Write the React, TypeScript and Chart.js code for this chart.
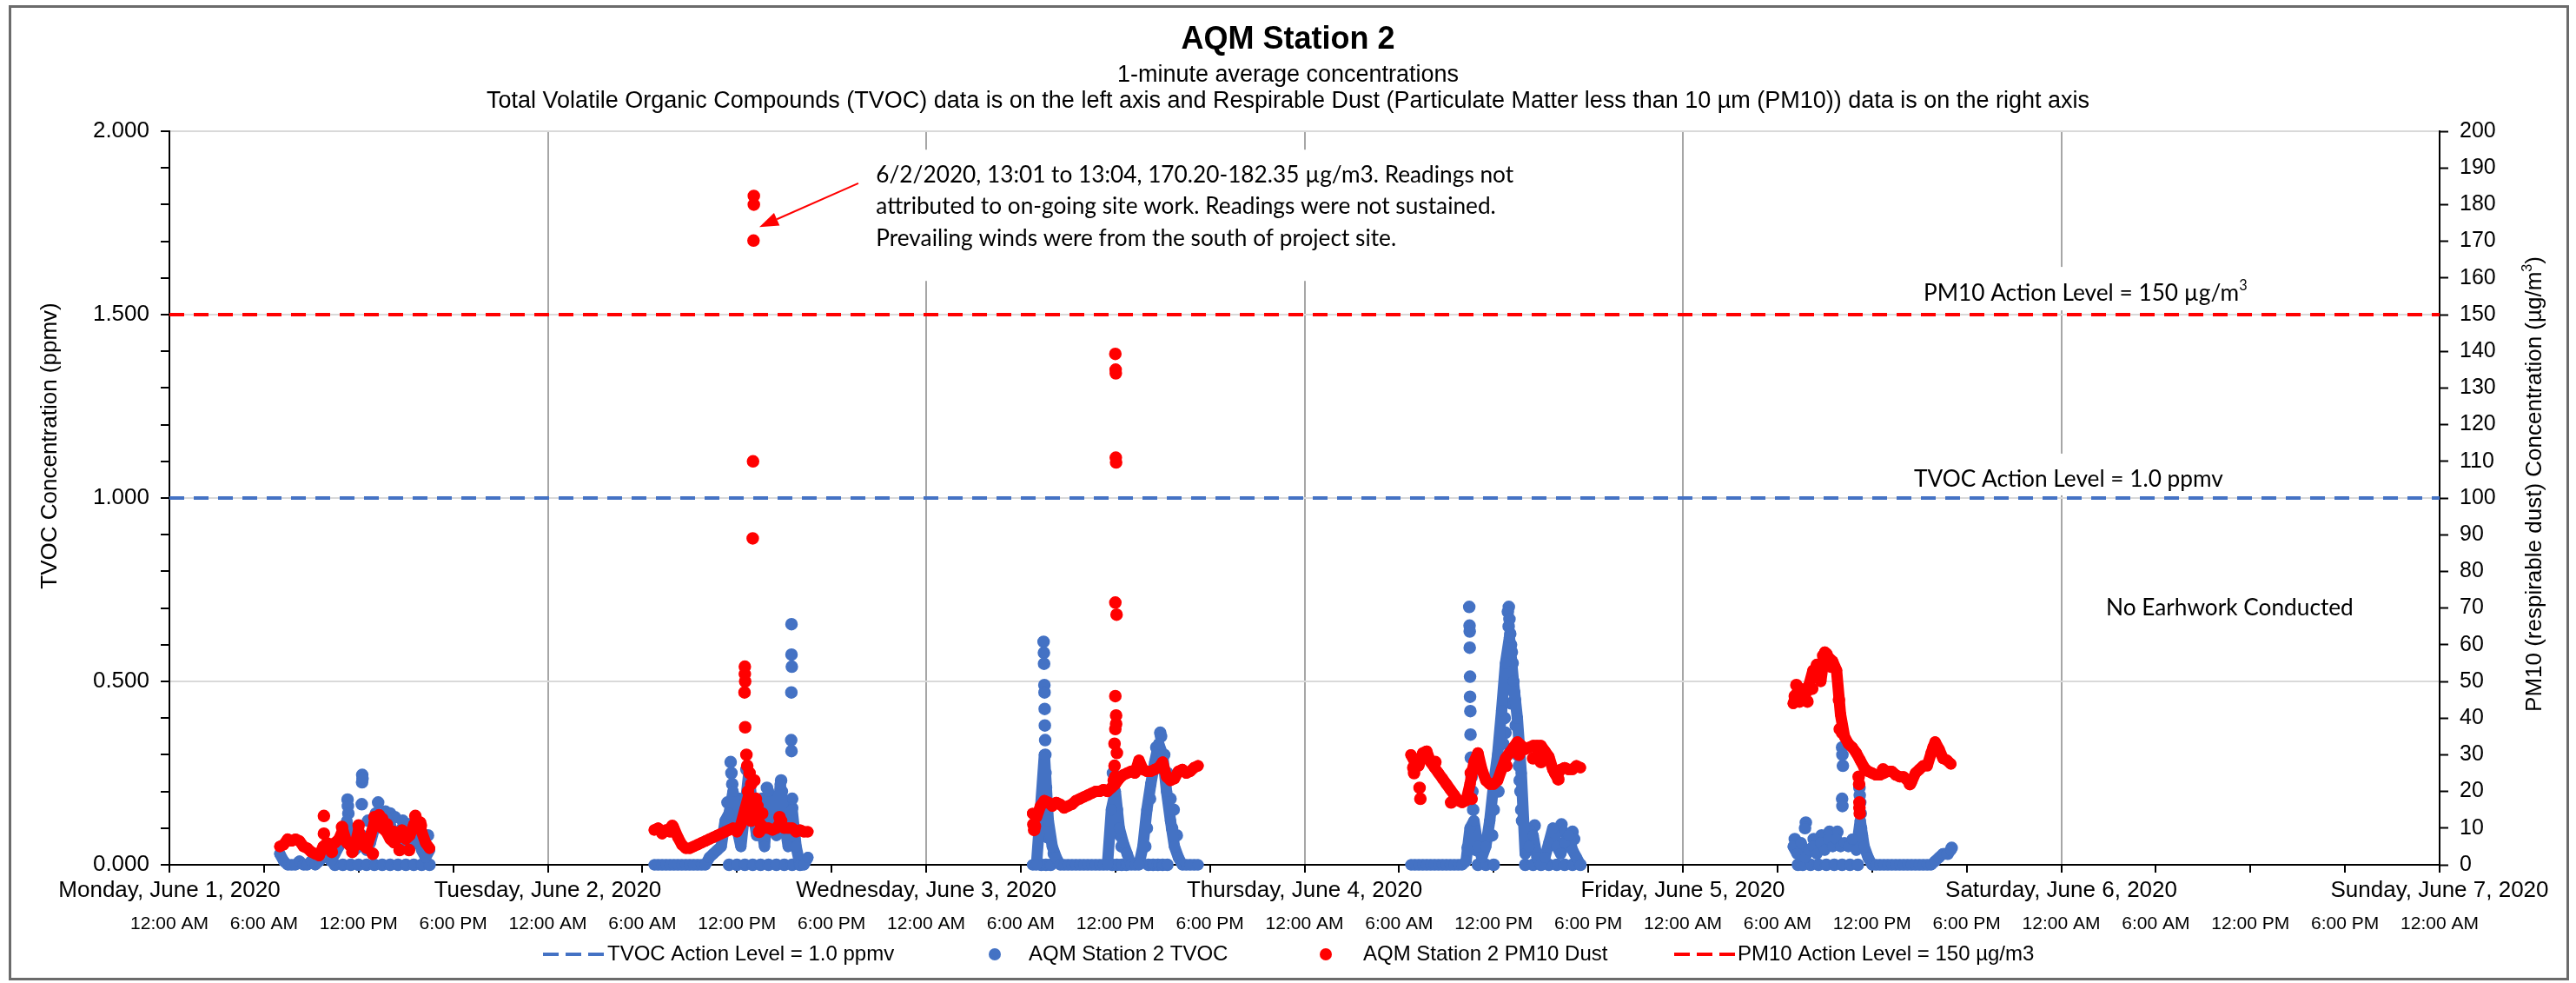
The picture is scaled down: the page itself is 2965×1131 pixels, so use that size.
import React, { useEffect, useRef } from 'react';
import { Chart, registerables } from 'chart.js';

Chart.register(...registerables);

const WIDTH = 2965;
const HEIGHT = 1131;
const STEP_HOURS = 0.25; // 15-minute sampling of the readable trace

// ---------- text / tick labels ----------
const chartTitle = 'AQM Station 2';
const subtitle1 = '1-minute average concentrations';
const subtitle2 =
  'Total Volatile Organic Compounds (TVOC) data is on the left axis and Respirable Dust (Particulate Matter less than 10 \u00b5m (PM10)) data is on the right axis';
const leftAxisTitle = 'TVOC Concentration (ppmv)';
const dayLabels = [
  'Monday, June 1, 2020',
  'Tuesday, June 2, 2020',
  'Wednesday, June 3, 2020',
  'Thursday, June 4, 2020',
  'Friday, June 5, 2020',
  'Saturday, June 6, 2020',
  'Sunday, June 7, 2020',
];
const timeOfDayLabels = ['12:00 AM', '6:00 AM', '12:00 PM', '6:00 PM'];
const legendLabels = [
  'TVOC Action Level = 1.0 ppmv',
  'AQM Station 2 TVOC',
  'AQM Station 2 PM10 Dust',
  'PM10 Action Level = 150 \u00b5g/m3',
];
const annotationLines = [
  '6/2/2020, 13:01 to 13:04, 170.20-182.35 \u00b5g/m3. Readings not',
  'attributed to on-going site work. Readings were not sustained.',
  'Prevailing winds were from the south of project site.',
];
const noWorkLabel = 'No Earhwork Conducted';
const tvocLevelLabel = 'TVOC Action Level = 1.0 ppmv';

// ---------- action levels ----------
const tvocActionLevel = 1.0; // ppmv
const pm10ActionLevel = 150; // ug/m3

// ---------- data (hours since Mon June 1 2020 00:00) ----------
// Monday
const pmMonStart = 7.0;
const pmMonValues = [5, 5.5, 7, 6.5, 7, 6.5, 5, 4.5, 3.5, 3, 2.5, 5, 6, 5.5, 6, 7, 9.5, 6, 5, 5, 9.5, 5.5, 4.5, 8, 11.5, 12, 10, 9, 7, 6, 7.5, 9.5, 7, 8, 11, 12, 9, 6, 4.5];
const pmMonExtra = [[9.8, 13.3], [9.8, 8.5], [10.95, 10.3], [10.95, 8], [12.0, 10.7], [12.05, 8], [13.0, 13], [13.3, 13.5], [13.5, 12.5], [13.4, 11], [13.8, 11], [14.2, 9], [15.6, 13.3], [15.95, 10.7], [15.9, 11.5], [12.9, 3], [11.6, 3.5], [10.3, 3.5], [14.6, 4], [15.2, 4]];
const tvocMonStart = 7.0;
const tvocMonValues = [0.03, 0.01, 0, 0, 0, 0.01, 0, 0, 0.01, 0, 0.01, 0.02, 0.03, 0.01, 0.03, 0.05, 0.08, 0.12, 0.06, 0.04, 0.05, 0.08, 0.04, 0.06, 0.1, 0.12, 0.1, 0.13, 0.11, 0.08, 0.06, 0.1, 0.07, 0.05, 0.06, 0.08, 0.04, 0.02, 0.04];
const tvocMonExtra = [[11.3, 0.178], [11.32, 0.16], [11.35, 0.14], [12.23, 0.245], [12.22, 0.225], [12.25, 0.235], [12.2, 0.165], [13.24, 0.17], [13.7, 0.145], [14.0, 0.14], [14.3, 0.13], [14.8, 0.12], [15.2, 0.11], [16.4, 0.08], [10.5, 0], [11, 0], [11.5, 0], [12, 0], [12.5, 0], [13, 0], [13.5, 0], [14, 0], [14.5, 0], [15, 0], [15.5, 0], [16, 0], [16.5, 0], [11.0, 0.1], [12.6, 0.12], [13.1, 0.14]];

// Tuesday
const pmTueStart = 30.75;
const pmTueValues = [9.5, 10, 8.5, 9.5, 9, 10, 7.5, 5.5, 4.5, 4.5, 5, 5.5, 6, 6.5, 7, 7.5, 8, 8.5, 9, 9.5, 10, 9, 11, 15, 19, 14, 13, 11, 10, 10, 9.5, 10, 11.5, 10, 10, 10, 9, 9.5, 9, 9];
const pmTueExtra = [[37.07, 182.35], [37.07, 180], [37.05, 170.2], [37.02, 110], [37.0, 89], [36.5, 54], [36.5, 52], [36.52, 50], [36.48, 47], [36.52, 37.5], [36.6, 30], [36.65, 27], [36.8, 25], [36.9, 22], [37.1, 23], [37.2, 18], [37.3, 16], [36.7, 20], [36.6, 15], [37.6, 14], [38.7, 13], [38.8, 12], [31.9, 10.6], [36.9, 12], [37.4, 9]];
const tvocTueStart = 30.75;
const tvocTueValues = [0, 0, 0, 0, 0, 0, 0, 0, 0, 0, 0, 0, 0, 0, 0.02, 0.03, 0.04, 0.05, 0.12, 0.14, 0.2, 0.1, 0.05, 0.15, 0.25, 0.15, 0.08, 0.12, 0.05, 0.2, 0.12, 0.08, 0.22, 0.12, 0.05, 0.15, 0.05, 0, 0, 0.02];
const tvocTueExtra = [[35.6, 0.28], [35.65, 0.25], [35.7, 0.22], [35.4, 0.17], [36.6, 0.26], [36.8, 0.23], [37.9, 0.21], [38.0, 0.15], [38.8, 0.23], [38.85, 0.2], [39.46, 0.656], [39.46, 0.573], [39.48, 0.54], [39.45, 0.47], [39.44, 0.34], [39.46, 0.31], [39.5, 0.18], [39.5, 0.155], [39.55, 0.1], [35.5, 0], [36, 0], [36.5, 0], [37, 0], [37.5, 0], [38, 0], [38.5, 0], [39, 0], [39.5, 0], [40, 0], [36.1, 0.18], [37.6, 0.18], [38.3, 0.18]];

// Wednesday
const pmWedStart = 54.75;
const pmWedValues = [14, 13, 16, 17.5, 17, 16, 17, 16.5, 15.5, 16, 16.5, 17.5, 18, 18.5, 19, 19.5, 20, 20, 20.5, 20, 21, 22, 23.5, 24.5, 25, 25.5, 25, 28.5, 26, 25.5, 25.5, 26, 26.5, 28, 24, 23, 23.5, 25.5, 26, 25, 25.5, 26.5, 27];
const pmWedExtra = [[54.8, 11], [54.85, 9.5], [54.9, 10.5], [60.0, 139.3], [60.02, 135], [60.03, 134], [60.03, 111], [60.05, 109.7], [60.0, 71.5], [60.08, 68.2], [60.0, 46], [60.05, 40.7], [60.05, 38.4], [60.0, 37], [59.95, 33], [60.1, 30.5], [59.95, 27], [60.0, 24], [59.9, 23]];
const tvocWedStart = 54.75;
const tvocWedValues = [0, 0, 0.15, 0.3, 0.12, 0.05, 0.02, 0, 0, 0, 0, 0, 0, 0, 0, 0, 0, 0, 0, 0, 0.15, 0.2, 0.1, 0.06, 0.03, 0, 0, 0, 0.05, 0.15, 0.22, 0.28, 0.33, 0.3, 0.2, 0.12, 0.05, 0.02, 0, 0, 0, 0, 0];
const tvocWedExtra = [[55.45, 0.608], [55.47, 0.578], [55.48, 0.548], [55.5, 0.49], [55.51, 0.47], [55.52, 0.425], [55.53, 0.38], [55.55, 0.34], [55.56, 0.3], [55.57, 0.25], [55.6, 0.21], [55.62, 0.15], [55.65, 0.1], [55.7, 0.075], [56.1, 0.03], [59.85, 0.25], [59.9, 0.2], [60.0, 0.12], [60.1, 0.15], [60.3, 0.08], [60.4, 0.05], [60.2, 0.1], [62.85, 0.36], [62.9, 0.35], [62.6, 0.32], [63.1, 0.3], [63.3, 0.25], [63.5, 0.18], [63.6, 0.1], [62.0, 0.1], [62.2, 0.18], [61.9, 0.05], [63.7, 0.15], [63.9, 0.08], [55.3, 0], [55.6, 0], [55.9, 0], [59.8, 0], [60.1, 0], [60.4, 0], [60.7, 0], [62.1, 0], [62.4, 0], [62.7, 0], [63.0, 0], [63.3, 0]];

// Thursday
const pmThuStart = 78.75;
const pmThuValues = [30, 28, 27, 30.5, 31, 28, 26.5, 25, 23.5, 22, 20.5, 19, 17.5, 17, 17.5, 22, 28, 30.5, 26, 23, 22, 22, 23, 26, 29, 30.5, 32, 33.5, 32.5, 31.5, 32, 32.5, 32.5, 32.5, 31, 29.5, 26, 24, 26, 26.5, 26, 26, 27, 26.5];
const pmThuExtra = [[78.9, 26.5], [78.95, 25], [79.3, 21], [79.35, 18], [79.5, 29], [82.55, 25], [82.7, 26], [82.6, 18], [83.0, 27], [84.8, 27], [85.6, 30], [86.5, 29], [86.8, 30], [87.0, 28], [88.1, 23.3], [87.9, 25], [80.3, 28], [81.3, 17]];
const tvocThuStart = 78.75;
const tvocThuValues = [0, 0, 0, 0, 0, 0, 0, 0, 0, 0, 0, 0, 0, 0, 0.01, 0.1, 0.12, 0.05, 0.02, 0.05, 0.12, 0.22, 0.3, 0.42, 0.55, 0.62, 0.5, 0.4, 0.25, 0.03, 0.05, 0.08, 0.02, 0, 0.02, 0.06, 0.1, 0.05, 0.03, 0.06, 0.08, 0.04, 0.02, 0];
const tvocThuExtra = [[82.45, 0.703], [82.47, 0.652], [82.48, 0.636], [82.48, 0.592], [82.5, 0.513], [82.5, 0.458], [82.52, 0.419], [82.53, 0.355], [82.55, 0.292], [82.6, 0.24], [82.65, 0.2], [82.7, 0.15], [82.8, 0.08], [82.35, 0.047], [82.9, 0.04], [84.96, 0.703], [84.9, 0.69], [85.0, 0.67], [84.95, 0.65], [85.05, 0.63], [85.1, 0.6], [85.15, 0.58], [85.2, 0.55], [85.0, 0.52], [85.25, 0.5], [85.3, 0.47], [85.35, 0.45], [85.1, 0.44], [84.7, 0.4], [84.75, 0.36], [84.6, 0.33], [85.4, 0.38], [85.5, 0.3], [85.6, 0.27], [85.65, 0.23], [85.7, 0.2], [85.75, 0.15], [85.8, 0.12], [84.3, 0.2], [84.0, 0.15], [83.9, 0.08], [86.6, 0.107], [86.4, 0.09], [88.3, 0.11], [88.4, 0.09], [89.0, 0.09], [89.1, 0.07], [83, 0], [83.5, 0], [84, 0], [86, 0], [86.5, 0], [87, 0], [87.5, 0], [88, 0], [88.5, 0], [89, 0], [89.5, 0]];

// Friday
const pmFriStart = 103.0;
const pmFriValues = [44, 47, 48, 46, 49, 53, 52, 50, 58, 56.5, 55.5, 53, 41, 35, 33, 32, 30.5, 28.5, 26.5, 25.5, 25, 24.5, 24.5, 25, 25.5, 25.5, 24.5, 24, 24, 23, 22.5, 25, 26, 27, 27, 30.5, 33.5, 31.5, 29, 28.5, 27.5];
const pmFriExtra = [[103.1, 46], [103.2, 49], [103.4, 44.5], [103.6, 45], [103.9, 44.5], [104.2, 48], [104.5, 54.5], [104.9, 57], [105.1, 57.5], [105.4, 54], [105.9, 45], [105.95, 37], [106.1, 36], [107.15, 24], [107.18, 22], [107.2, 17], [107.2, 15.5], [107.22, 14], [108.7, 26], [110.4, 22], [111.9, 32]];
const tvocFriStart = 103.0;
const tvocFriValues = [0.05, 0.03, 0.06, 0.02, 0.04, 0.05, 0.03, 0.06, 0.04, 0.07, 0.05, 0.07, 0.05, 0.06, 0.05, 0.07, 0.04, 0.12, 0.05, 0.02, 0, 0, 0, 0, 0, 0, 0, 0, 0, 0, 0, 0, 0, 0, 0, 0, 0.01, 0.02, 0.03, 0.03, 0.04];
const tvocFriExtra = [[103.8, 0.115], [103.75, 0.1], [103.1, 0.07], [103.3, 0], [103.6, 0], [104.1, 0], [104.6, 0], [105.1, 0], [105.6, 0], [106.1, 0], [106.6, 0], [107.1, 0], [106.1, 0.32], [106.12, 0.3], [106.15, 0.27], [106.1, 0.18], [106.12, 0.16], [107.2, 0.21], [107.22, 0.19], [107.25, 0.17], [107.28, 0.14], [107.3, 0.1], [107.35, 0.08], [107.4, 0.05], [104.8, 0.08], [105.3, 0.09], [105.8, 0.09], [104.3, 0.07], [113.05, 0.046], [112.8, 0.03]];

// ---------- helpers ----------
const SANS = '"Liberation Sans", Arial, Helvetica, sans-serif';
const CAL = 'Lato, "Open Sans", sans-serif';
const BLUE = '#4472C4';
const RED = '#FF0000';
const MARKER_R = 6.5;

function sampled(start: number, values: number[]) {
  return values.map((y, i) => ({ x: start + i * STEP_HOURS, y }));
}
function pairs(list: number[][]) {
  return list.map(([x, y]) => ({ x, y }));
}
// dense 1-minute readings appear as a continuous trail of markers; join each day's
// readings and break between days
function dailyTrail(days: [number, number[]][]) {
  const out: { x: number; y: number | null }[] = [];
  days.forEach(([start, values], k) => {
    if (k > 0) out.push({ x: start - 1, y: null });
    out.push(...sampled(start, values));
  });
  return out;
}
function isHalf(v: number) {
  return Math.abs(v * 2 - Math.round(v * 2)) < 1e-6;
}

const pmTrail = dailyTrail([
  [pmMonStart, pmMonValues], [pmTueStart, pmTueValues], [pmWedStart, pmWedValues],
  [pmThuStart, pmThuValues], [pmFriStart, pmFriValues],
]);
const pmScatter = [...pairs(pmMonExtra), ...pairs(pmTueExtra), ...pairs(pmWedExtra), ...pairs(pmThuExtra), ...pairs(pmFriExtra)];
const tvocTrail = dailyTrail([
  [tvocMonStart, tvocMonValues], [tvocTueStart, tvocTueValues], [tvocWedStart, tvocWedValues],
  [tvocThuStart, tvocThuValues], [tvocFriStart, tvocFriValues],
]);
const tvocScatter = [...pairs(tvocMonExtra), ...pairs(tvocTueExtra), ...pairs(tvocWedExtra), ...pairs(tvocThuExtra), ...pairs(tvocFriExtra)];

function drawParts(ctx: CanvasRenderingContext2D, parts: [string, boolean][], x: number, y: number, size: number, family: string, measureOnly = false) {
  let cx = x;
  for (const [t, sup] of parts) {
    ctx.font = `${sup ? size * 0.62 : size}px ${family}`;
    if (!measureOnly) ctx.fillText(t, cx, sup ? y - size * 0.33 : y);
    cx += ctx.measureText(t).width;
  }
  return cx - x;
}

const decorPlugin = {
  id: 'decor',
  beforeDraw(chart: any) {
    const ctx = chart.ctx;
    ctx.save();
    ctx.fillStyle = '#ffffff';
    ctx.fillRect(0, 0, chart.width, chart.height);
    ctx.restore();
  },
  afterDraw(chart: any) {
    const ctx: CanvasRenderingContext2D = chart.ctx;
    const xs = chart.scales.x;
    const yl = chart.scales.y;
    const area = chart.chartArea;
    ctx.save();

    // Titles
    ctx.fillStyle = '#000';
    ctx.textAlign = 'center';
    ctx.textBaseline = 'middle';
    ctx.font = `bold 36px ${SANS}`;
    ctx.fillText(chartTitle, WIDTH / 2, 46);
    ctx.font = `27px ${SANS}`;
    ctx.fillText(subtitle1, WIDTH / 2, 87);
    ctx.fillText(subtitle2, WIDTH / 2, 117);

    // X axis two-level labels
    ctx.font = `26px ${SANS}`;
    dayLabels.forEach((label, i) => {
      ctx.fillText(label, xs.getPixelForValue(i * 24), area.bottom + 30);
    });
    ctx.font = `21px ${SANS}`;
    for (let h = 0; h <= 144; h += 6) {
      ctx.fillText(timeOfDayLabels[(h / 6) % 4], xs.getPixelForValue(h), area.bottom + 68);
    }

    // Axis titles
    ctx.save();
    ctx.translate(58, 513);
    ctx.rotate(-Math.PI / 2);
    ctx.font = `26px ${SANS}`;
    ctx.fillText(leftAxisTitle, 0, 0);
    ctx.restore();

    ctx.save();
    ctx.translate(2918, 557);
    ctx.rotate(-Math.PI / 2);
    ctx.textAlign = 'left';
    const rParts: [string, boolean][] = [['PM10 (respirable dust) Concentration (\u00b5g/m', false], ['3', true], [')', false]];
    const rw = drawParts(ctx, rParts, 0, 0, 26, SANS, true);
    drawParts(ctx, rParts, -rw / 2, 0, 26, SANS);
    ctx.restore();

    // Calibri-like annotation size, fitted to the label width
    ctx.font = `28px ${CAL}`;
    const calSize = (28 * 356) / ctx.measureText(tvocLevelLabel).width;

    // Annotation box (June 2 spike)
    ctx.textAlign = 'left';
    const ax = xs.getPixelForValue(44.82);
    const ay = [1.881, 1.796, 1.708].map((v) => yl.getPixelForValue(v));
    ctx.font = `${calSize}px ${CAL}`;
    const aw = Math.max(...annotationLines.map((t) => ctx.measureText(t).width));
    ctx.fillStyle = '#fff';
    ctx.fillRect(ax - 14, ay[0] - 29, aw + 28, ay[2] - ay[0] + 78);
    ctx.fillStyle = '#000';
    annotationLines.forEach((t, i) => ctx.fillText(t, ax, ay[i]));

    // Arrow
    const tx = xs.getPixelForValue(43.7), ty = yl.getPixelForValue(1.858);
    const hx = xs.getPixelForValue(37.42), hy = yl.getPixelForValue(1.739);
    const ang = Math.atan2(hy - ty, hx - tx);
    const headLen = 22, headW = 8;
    const bx = hx - headLen * Math.cos(ang), by = hy - headLen * Math.sin(ang);
    ctx.strokeStyle = RED;
    ctx.fillStyle = RED;
    ctx.lineWidth = 2;
    ctx.beginPath();
    ctx.moveTo(tx, ty);
    ctx.lineTo(bx, by);
    ctx.stroke();
    ctx.beginPath();
    ctx.moveTo(hx, hy);
    ctx.lineTo(bx + headW * Math.sin(ang), by - headW * Math.cos(ang));
    ctx.lineTo(bx - headW * Math.sin(ang), by + headW * Math.cos(ang));
    ctx.closePath();
    ctx.fill();

    // Action level labels
    const boxL = xs.getPixelForValue(109.6), boxR = xs.getPixelForValue(134.0);
    const pmY = yl.getPixelForValue(1.559);
    const tvY = yl.getPixelForValue(1.05);
    ctx.fillStyle = '#fff';
    ctx.fillRect(boxL, pmY - 30, boxR - boxL, 50);
    ctx.fillRect(boxL, tvY - 30, boxR - boxL, 48);
    ctx.fillStyle = '#000';
    drawParts(ctx, [['PM10 Action Level = 150 \u00b5g/m', false], ['3', true]], xs.getPixelForValue(111.26), pmY, calSize, CAL);
    ctx.font = `${calSize}px ${CAL}`;
    ctx.fillText(tvocLevelLabel, xs.getPixelForValue(110.66), tvY);
    ctx.fillText(noWorkLabel, xs.getPixelForValue(122.84), yl.getPixelForValue(0.701));

    // Legend
    const ly = 1098;
    ctx.font = `24px ${SANS}`;
    ctx.lineWidth = 4;
    ctx.setLineDash([18, 8]);
    ctx.strokeStyle = BLUE;
    ctx.beginPath(); ctx.moveTo(625, ly); ctx.lineTo(695, ly); ctx.stroke();
    ctx.strokeStyle = RED;
    ctx.beginPath(); ctx.moveTo(1927, ly); ctx.lineTo(1997, ly); ctx.stroke();
    ctx.setLineDash([]);
    ctx.fillStyle = BLUE;
    ctx.beginPath(); ctx.arc(1145, ly, 7, 0, Math.PI * 2); ctx.fill();
    ctx.fillStyle = RED;
    ctx.beginPath(); ctx.arc(1526, ly, 7, 0, Math.PI * 2); ctx.fill();
    ctx.fillStyle = '#000';
    ctx.fillText(legendLabels[0], 699, ly);
    ctx.fillText(legendLabels[1], 1184, ly);
    ctx.fillText(legendLabels[2], 1569, ly);
    ctx.fillText(legendLabels[3], 2000, ly);

    // Outer border
    ctx.strokeStyle = '#6b6b6b';
    ctx.lineWidth = 3;
    ctx.strokeRect(11.5, 7.5, 2944, 1119);
    ctx.restore();
  },
};

export default function App() {
  const ref = useRef<HTMLCanvasElement>(null);
  useEffect(() => {
    const canvas = ref.current;
    if (!canvas) return;
    const trail = (data: any, color: string, axis: string, order: number) => ({
      type: 'line', data, yAxisID: axis, borderColor: color, backgroundColor: color,
      borderWidth: MARKER_R * 2, borderJoinStyle: 'round', borderCapStyle: 'round',
      pointRadius: MARKER_R, pointBorderWidth: 0, spanGaps: false, fill: false, tension: 0, clip: false, order,
    });
    const dots = (data: any, color: string, axis: string, order: number) => ({
      type: 'scatter', data, yAxisID: axis, backgroundColor: color, borderColor: color,
      pointRadius: MARKER_R, pointBorderWidth: 1.5, clip: false, order,
    });
    const chart = new Chart(canvas, {
      type: 'scatter',
      data: {
        datasets: [
          { ...trail(pmTrail, RED, 'y1', 0), label: legendLabels[2] } as any,
          { ...dots(pmScatter, RED, 'y1', 0), label: legendLabels[2] } as any,
          { ...trail(tvocTrail, BLUE, 'y', 1), label: legendLabels[1] } as any,
          { ...dots(tvocScatter, BLUE, 'y', 1), label: legendLabels[1] } as any,
          { type: 'line', label: legendLabels[0], data: [{ x: 0, y: tvocActionLevel }, { x: 144, y: tvocActionLevel }], yAxisID: 'y', borderColor: BLUE, borderWidth: 4, borderDash: [17, 11], pointRadius: 0, fill: false, order: 2 } as any,
          { type: 'line', label: legendLabels[3], data: [{ x: 0, y: pm10ActionLevel }, { x: 144, y: pm10ActionLevel }], yAxisID: 'y1', borderColor: RED, borderWidth: 4, borderDash: [17, 11], pointRadius: 0, fill: false, order: 2 } as any,
        ],
      },
      options: {
        animation: false,
        responsive: false,
        maintainAspectRatio: false,
        devicePixelRatio: 1,
        events: [],
        layout: { padding: { top: 151, left: 0, right: 0, bottom: 0 } },
        plugins: { legend: { display: false }, title: { display: false }, tooltip: { enabled: false } },
        scales: {
          x: {
            type: 'linear',
            min: 0,
            max: 144,
            ticks: { stepSize: 6, autoSkip: false, callback: () => '' },
            grid: {
              color: (c: any) => (c.tick && c.tick.value % 24 === 0 ? '#a6a6a6' : 'rgba(0,0,0,0)'),
              lineWidth: 2,
              tickColor: '#000',
              tickLength: 9,
              tickWidth: 2,
            },
            border: { color: '#000', width: 2 },
            afterFit: (s: any) => { s.height = HEIGHT - 995; },
          },
          y: {
            type: 'linear',
            position: 'left',
            min: 0,
            max: 2,
            ticks: {
              stepSize: 0.1,
              autoSkip: false,
              padding: 13,
              color: '#000',
              font: { family: SANS, size: 26 },
              callback: (v: any) => (isHalf(Number(v)) ? Number(v).toFixed(3) : ''),
            },
            grid: {
              color: (c: any) => (c.tick && isHalf(c.tick.value) ? '#d9d9d9' : 'rgba(0,0,0,0)'),
              lineWidth: 2,
              tickColor: '#000',
              tickLength: 10,
              tickWidth: 2,
            },
            border: { color: '#000', width: 2 },
            afterFit: (s: any) => { s.width = 195; },
          },
          y1: {
            type: 'linear',
            position: 'right',
            min: 0,
            max: 200,
            ticks: { stepSize: 10, autoSkip: false, padding: 13, color: '#000', font: { family: SANS, size: 25 } },
            grid: { drawOnChartArea: false, tickColor: '#000', tickLength: 10, tickWidth: 2 },
            border: { color: '#000', width: 2 },
            afterFit: (s: any) => { s.width = WIDTH - 2808; },
          },
        },
      } as any,
      plugins: [decorPlugin],
    });
    return () => chart.destroy();
  }, []);
  return (
    <canvas
      ref={ref}
      width={WIDTH}
      height={HEIGHT}
      style={{ position: 'absolute', left: 0, top: 0, width: WIDTH, height: HEIGHT, display: 'block' }}
    />
  );
}
